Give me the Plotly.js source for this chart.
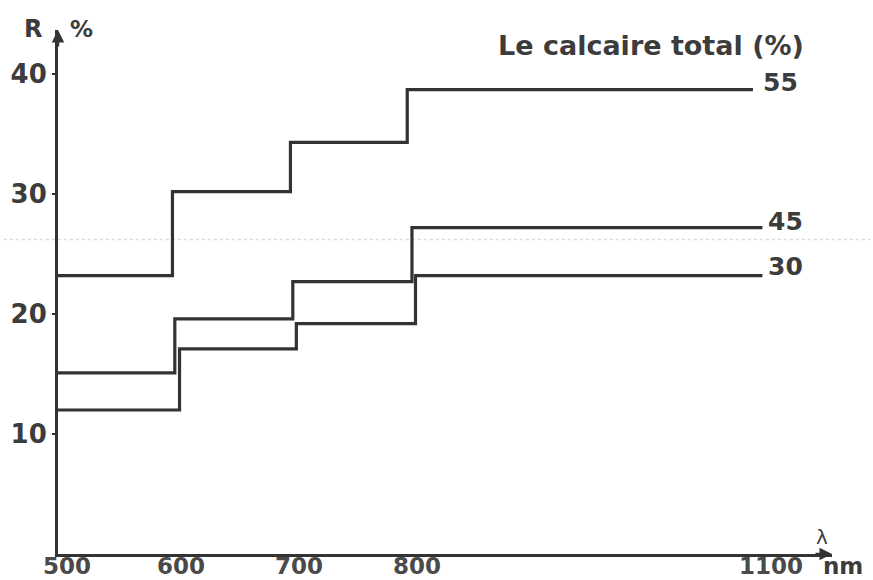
<!DOCTYPE html>
<html>
<head>
<meta charset="utf-8">
<script src="https://cdn.plot.ly/plotly-3.0.1.min.js"></script>
<style>html,body{margin:0;padding:0;background:#fff;}#chart{width:873px;height:580px;}</style>
</head>
<body>
<div id="chart"></div>
<script>
// Step positions (nm) and reflectance levels (%)
const seriesNames = ["55", "45", "30"];
const x55 = [500, 597, 697, 796, 1089];
const y55 = [23.2, 30.2, 34.3, 38.7, 38.7];
const x45 = [500, 599, 699, 800, 1097];
const y45 = [15.1, 19.6, 22.7, 27.2, 27.2];
const x30 = [500, 603, 702, 803, 1097];
const y30 = [12.0, 17.1, 19.2, 23.2, 23.2];
const xTicks = [500, 600, 700, 800, 1100];
const yTicks = [10, 20, 30, 40];

const ink = "#333";
const txt = "#3c3c3c";
const FONT = "DejaVu Sans";

function stepTrace(x, y, name) {
  return {x: x, y: y, name: name, type: "scatter", mode: "lines",
    line: {shape: "hv", color: ink, width: 3.2}, cliponaxis: false, hoverinfo: "skip"};
}
const traces = [stepTrace(x55, y55, "55"), stepTrace(x45, y45, "45"), stepTrace(x30, y30, "30")];

const allX = [x55, x45, x30], allY = [y55, y45, y30];
const labelXShift = [8, 4, 4];
const labelYShift = [7, 6, 9];
const annotations = seriesNames.map((n, i) => ({
  x: allX[i][allX[i].length - 1], y: allY[i][allY[i].length - 1], text: n,
  xanchor: "left", yanchor: "middle", xshift: labelXShift[i], yshift: labelYShift[i],
  showarrow: false, font: {family: FONT, size: 25, color: txt, weight: "bold"}
}));
// x tick labels, placed through the x axis scale
xTicks.forEach((t, i) => annotations.push({
  x: t, y: 0, yref: "y", text: String(t), xanchor: "center", yanchor: "middle", yshift: -12,
  xshift: i === 0 ? 9 : 5, borderpad: 0,
  showarrow: false, font: {family: FONT, size: 23, color: "#4a4a4a", weight: "bold"}
}));
annotations.push(
  {xref: "paper", yref: "paper", x: 0.966, y: 1.0, text: "Le calcaire total (%)", xanchor: "right", yanchor: "middle",
   yshift: -15, showarrow: false, font: {family: FONT, size: 27, color: txt, weight: "bold"}},
  {xref: "paper", yref: "paper", x: 0, y: 1, text: "R", xanchor: "right", yanchor: "middle", xshift: -14, yshift: 1,
   showarrow: false, font: {family: FONT, size: 24, color: txt, weight: "bold"}},
  {xref: "paper", yref: "paper", x: 0, y: 1, text: "%", xanchor: "left", yanchor: "middle", xshift: 10, yshift: 1,
   showarrow: false, font: {family: FONT, size: 23, color: txt, weight: "bold"}},
  {xref: "paper", yref: "paper", x: 1, y: 0, text: "λ", xanchor: "center", yanchor: "middle", xshift: -10, yshift: 17,
   showarrow: false, font: {family: FONT, size: 20, color: txt}},
  {xref: "paper", yref: "paper", x: 1, y: 0, text: "nm", xanchor: "center", yanchor: "middle", xshift: 11, yshift: -12,
   borderpad: 0, showarrow: false, font: {family: FONT, size: 23, color: txt, weight: "bold"}},
  // axis arrowheads
  {xref: "paper", yref: "paper", x: 1, y: 0, ax: -18, ay: 0, text: "", showarrow: true,
   arrowhead: 2, arrowsize: 1, arrowwidth: 2.5, arrowcolor: ink},
  {xref: "paper", yref: "paper", x: 0, y: 1, ax: 0, ay: 18, text: "", showarrow: true,
   arrowhead: 2, arrowsize: 1, arrowwidth: 2.5, arrowcolor: ink}
);

const layout = {
  width: 873, height: 580,
  margin: {l: 58, r: 41, t: 30, b: 26},
  paper_bgcolor: "#fff", plot_bgcolor: "#fff",
  showlegend: false,
  xaxis: {range: [500, 1156], tickvals: xTicks, showticklabels: false,
    showline: true, linecolor: ink, linewidth: 3, showgrid: false, zeroline: false, ticks: ""},
  yaxis: {range: [0, 43.67], tickvals: yTicks, ticktext: yTicks.map(String),
    showline: true, linecolor: ink, linewidth: 3, showgrid: false, zeroline: false,
    ticks: "outside", ticklen: 3, tickwidth: 2, tickcolor: ink,
    tickfont: {family: FONT, size: 26, color: txt, weight: "bold"}},
  shapes: [
    {type: "line", xref: "paper", yref: "y", x0: -0.07, x1: 1.05, y0: 26.2, y1: 26.2,
     line: {color: "rgba(140,150,175,0.35)", width: 1.5, dash: "dot"}, layer: "below"}
  ],
  annotations: annotations
};

Plotly.newPlot("chart", traces, layout, {staticPlot: true, displayModeBar: false});
</script>
</body>
</html>
